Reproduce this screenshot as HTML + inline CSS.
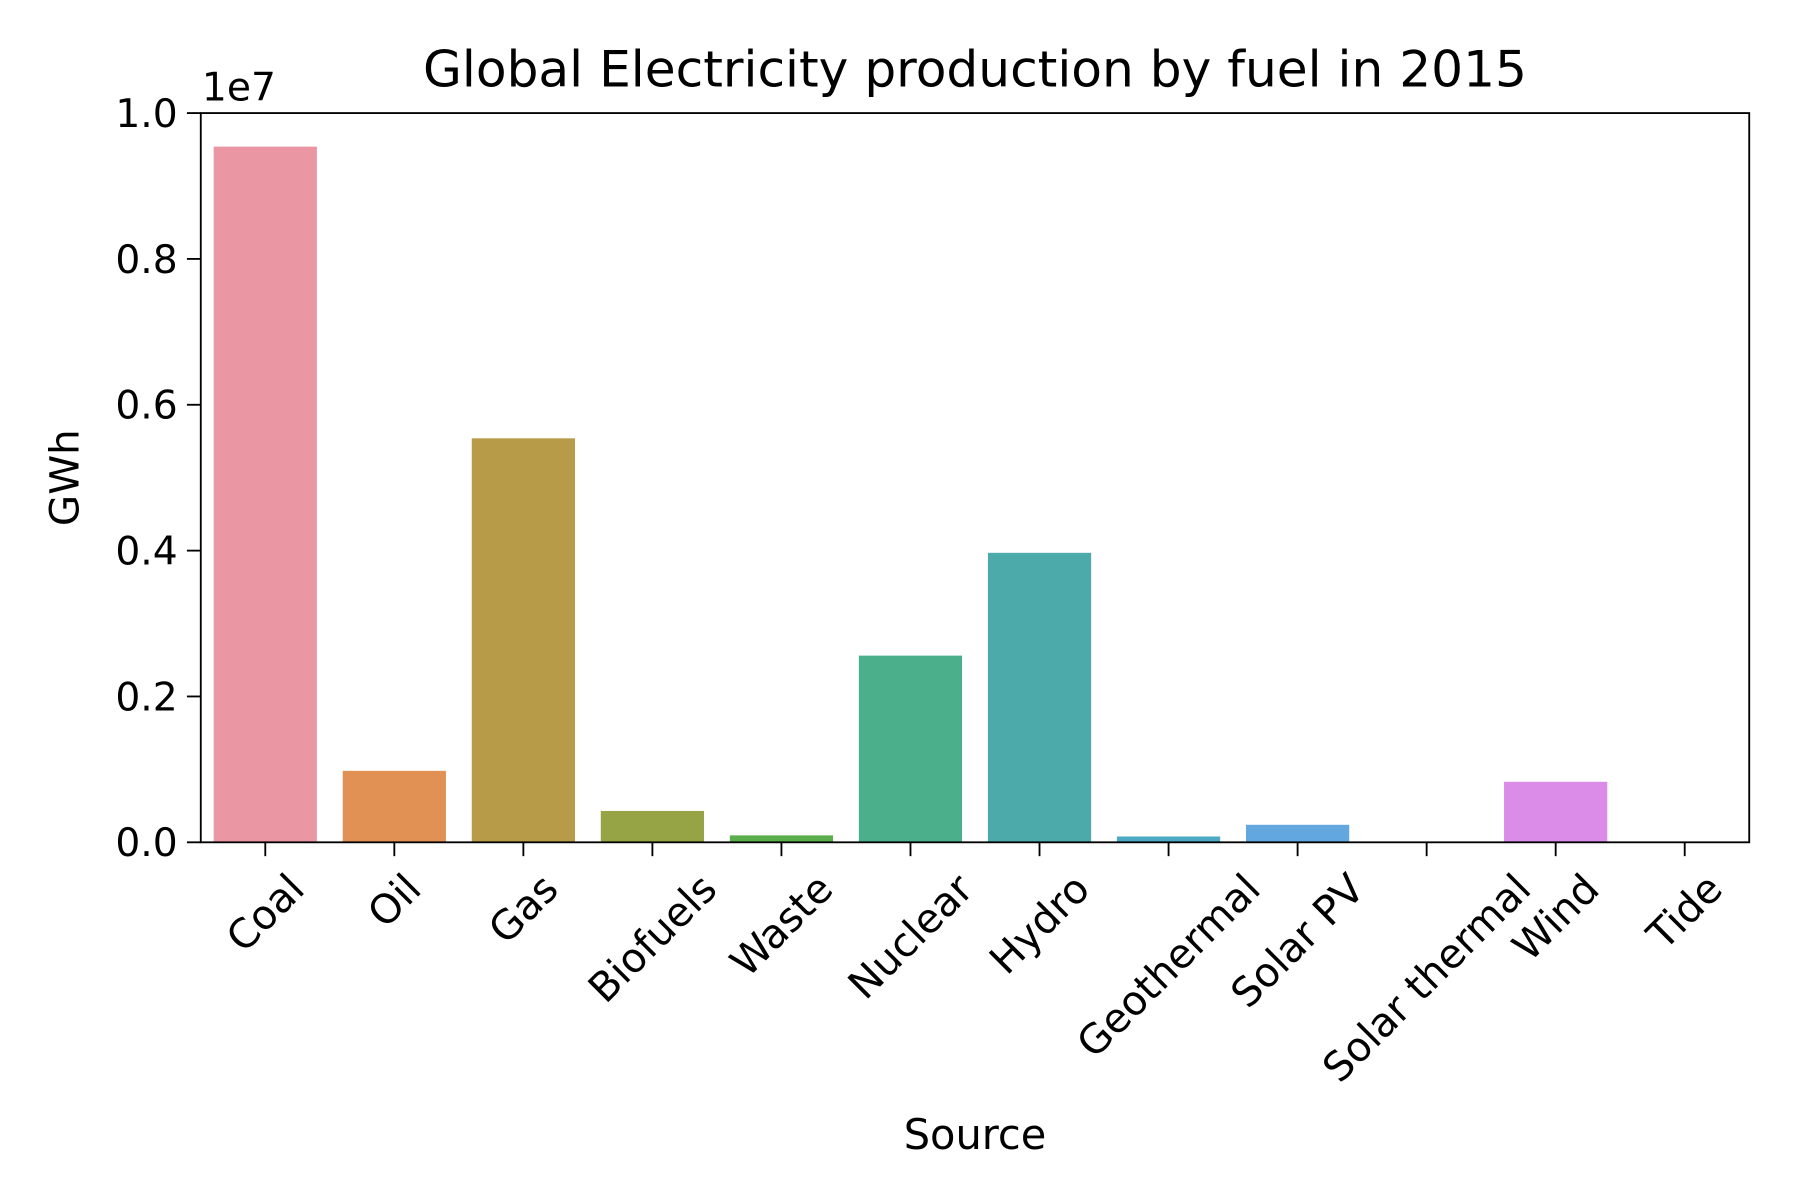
<!DOCTYPE html>
<html><head><meta charset="utf-8"><style>
html,body{margin:0;padding:0;background:#fff;}
svg{display:block;font-family:"DejaVu Sans","Liberation Sans",sans-serif;}
</style></head><body>
<svg id="chart" width="1800" height="1200" viewBox="0 0 1560 1040" xmlns="http://www.w3.org/2000/svg">
<rect width="1560" height="1040" fill="#fff"/>
<text x="845" y="75" font-size="43.5" text-anchor="middle" fill="#000">Global Electricity production by fuel in 2015</text>
<text x="175" y="87" font-size="34" fill="#000">1e7</text>
<text transform="translate(68,414) rotate(-90)" font-size="35" text-anchor="middle" fill="#000">GWh</text>
<text x="845" y="996" font-size="36" text-anchor="middle" fill="#000">Source</text>
<g id="bars"></g><g id="yticks"></g><g id="xticks"></g>
<rect x="174" y="98" width="1342" height="632" fill="none" stroke="#000" stroke-width="1.6"/>
</svg>
<script>
const categories = ["Coal","Oil","Gas","Biofuels","Waste","Nuclear","Hydro","Geothermal","Solar PV","Solar thermal","Wind","Tide"];
const values = [9540000,980000,5540000,430000,95000,2560000,3970000,80000,240000,10000,830000,1000];
const colors = ["#ea96a3","#e19153","#b79b49","#97a446","#5aae4c","#4aaf8a","#4cabaa","#4ea9c4","#62a7e0","#a59ae7","#db8be8","#e78cc6"];
const yTicks = [0,2000000,4000000,6000000,8000000,10000000];
const yTickLabels = ["0.0","0.2","0.4","0.6","0.8","1.0"];
const NS="http://www.w3.org/2000/svg";
const L=174,R=1516,T=98,B=730,YMAX=1e7;
const slot=(R-L)/categories.length;
function xc(i){return L+slot*(i+0.5);}
function y(v){return B-(v/YMAX)*(B-T);}
function mk(tag,attrs,parent){const e=document.createElementNS(NS,tag);for(const k in attrs)e.setAttribute(k,attrs[k]);parent.appendChild(e);return e;}
const gb=document.getElementById('bars'),gy=document.getElementById('yticks'),gx=document.getElementById('xticks');
categories.forEach((c,i)=>{
  const w=slot*0.8;
  const r=mk('rect',{x:xc(i)-w/2,y:y(values[i]),width:w,height:B-y(values[i]),fill:colors[i]},gb);
  
  
  const t=mk('line',{x1:xc(i),x2:xc(i),y1:B,y2:B+12,stroke:'#000','stroke-width':1.6},gx);
  
  
  const lb=mk('text',{'font-size':35,'text-anchor':'middle',fill:'#000'},gx);
  
  
  lb.textContent=c;
  const len=lb.getComputedTextLength();
  const half=(len/2)*0.7071+(17*0.7071);
  const cx=xc(i), cy=B+22+half;
  lb.setAttribute('transform','translate('+cx+','+cy+') rotate(-45)');
  lb.setAttribute('y',12);
});
yTicks.forEach((v,i)=>{
  const t=mk('line',{x1:L-12,x2:L,y1:y(v),y2:y(v),stroke:'#000','stroke-width':1.6},gy);
  
  
  const lb=mk('text',{x:L-20,y:y(v)+12,'font-size':34,'text-anchor':'end',fill:'#000'},gy);
  
  
  lb.textContent=yTickLabels[i];
});
</script>
</body></html>
